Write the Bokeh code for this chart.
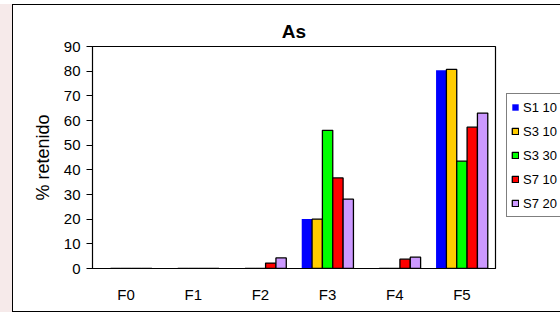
from bokeh.plotting import figure
from bokeh.layouts import row
from bokeh.models import FactorRange, Legend, LegendItem, ColumnDataSource, Range1d
from bokeh.transform import dodge
from bokeh.embed import file_html
from bokeh.resources import INLINE

categories = ["F0", "F1", "F2", "F3", "F4", "F5"]
series_names = ["S1 10", "S3 10", "S3 30", "S7 10", "S7 20"]
s1_10 = [0, 0, 0, 20.1, 0, 80.4]
s3_10 = [0, 0, 0, 20.0, 0, 80.7]
s3_30 = [0, 0, 0, 56.0, 0, 43.5]
s7_10 = [0, 0, 2.2, 36.7, 3.8, 57.3]
s7_20 = [0, 0, 4.3, 28.1, 4.6, 63.0]
y_ticks = [0, 10, 20, 30, 40, 50, 60, 70, 80, 90]

colors = ["#0000FF", "#FFCC00", "#00FF00", "#FF0000", "#CC99FF"]
outlines = [None, "black", "black", "black", "black"]

src = ColumnDataSource(dict(cat=categories, a=s1_10, b=s3_10, c=s3_30, d=s7_10, e=s7_20))
keys = ["a", "b", "c", "d", "e"]

FONT = "Liberation Sans"

p = figure(x_range=FactorRange(*categories), y_range=(0, 90),
           width=485, height=306, output_backend="svg", toolbar_location=None,
           min_border_left=79, min_border_right=3, min_border_top=41, min_border_bottom=43)

p.title.text = "As"
p.title.align = "center"
p.title.text_font = FONT
p.title.text_font_size = "19px"
p.title.text_font_style = "bold"
p.title.text_color = "black"
p.title.offset = 0
p.title.standoff = 9

bw = 0.154
for i, k in enumerate(keys):
    p.vbar(x=dodge("cat", (i - 2) * bw, range=p.x_range), top=k, width=bw,
           source=src, fill_color=colors[i], line_color=outlines[i], line_width=1.3)

p.xgrid.grid_line_color = None
p.ygrid.grid_line_color = None
p.outline_line_color = "black"
p.outline_line_width = 1.2
p.background_fill_color = "white"
p.border_fill_color = "white"

p.yaxis.ticker = y_ticks
p.yaxis.axis_label = "% retenido"
p.yaxis.axis_label_text_font = FONT
p.yaxis.axis_label_text_font_size = "18px"
p.yaxis.axis_label_text_font_style = "normal"
p.yaxis.axis_label_text_color = "black"
p.yaxis.axis_label_standoff = 8
p.yaxis.major_label_text_font = FONT
p.yaxis.major_label_text_font_size = "15px"
p.yaxis.major_label_text_color = "black"
p.yaxis.major_tick_out = 6
p.yaxis.major_tick_in = 0
p.yaxis.minor_tick_line_color = None
p.yaxis.axis_line_color = "black"
p.yaxis.major_label_standoff = 6

p.xaxis.major_tick_line_color = None
p.xaxis.minor_tick_line_color = None
p.xaxis.major_label_text_font = FONT
p.xaxis.major_label_text_font_size = "15px"
p.xaxis.major_label_text_color = "black"
p.xaxis.major_label_standoff = 11
p.xaxis.axis_line_color = "black"
p.xaxis.axis_line_width = 1.2

# legend panel: a separate canvas (its frame is aligned with the main frame);
# its proxy renderers are hidden, and the legend's inactive overlay is transparent
pl = figure(width=62, height=306, output_backend="svg", toolbar_location=None,
            x_range=FactorRange(*categories), y_range=Range1d(200, 300),
            x_axis_location=None, y_axis_location=None,
            min_border_left=0, min_border_right=0, min_border_top=0, min_border_bottom=0)
pl.outline_line_color = None
pl.xgrid.grid_line_color = None
pl.ygrid.grid_line_color = None
pl.border_fill_color = "white"
pl.background_fill_color = "white"
items = []
for i, k in enumerate(keys):
    r = pl.vbar(x="cat", top=k, width=bw, source=src,
                fill_color=colors[i], line_color=outlines[i], line_width=1.3)
    r.visible = False
    items.append(LegendItem(label=series_names[i], renderers=[r]))

legend = Legend(items=items, location=(8, 51), orientation="vertical",
                label_text_font=FONT, label_text_font_size="13px", label_text_color="black",
                glyph_width=8, glyph_height=8, label_height=18, spacing=6,
                padding=4, margin=0, label_standoff=4,
                border_line_color="black", border_line_width=1,
                background_fill_color="white", background_fill_alpha=1,
                inactive_fill_alpha=0)
pl.add_layout(legend)

layout = row(p, pl, spacing=0,
             styles={"margin-left": "12px", "margin-top": "4px",
                     "border-left": "1px solid black", "border-top": "1px solid black",
                     "border-bottom": "1px solid black",
                     "box-shadow": "-13px 0 0 0 #f6eaea"})

open("out.html", "w").write(file_html(layout, INLINE))
